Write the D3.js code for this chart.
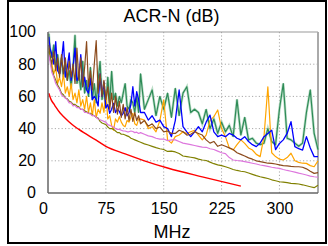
<!DOCTYPE html>
<html><head><meta charset="utf-8">
<script src="https://cdn.jsdelivr.net/npm/d3@7"></script>
<style>body{margin:0;background:#fff}svg{display:block;font-family:"Liberation Sans",Arial,sans-serif}</style>
</head><body><svg id="c" width="328" height="246"></svg>
<script>
const title = "ACR-N (dB)";
const xLabel = "MHz";
const xTicks = [0, 75, 150, 225, 300];
const yTicks = [0, 20, 40, 60, 80, 100];

const freqs = [1,2.5,5,7.5,10,12.5,15,17.5,20,22.5,25,27.5,30,32.5,35,37.5,40,42.5,45,47.5,50,52.5,55,57.5,60,62.5,65,67.5,70,72.5,75,77.5,80,82.5,85,87.5,90,92.5,95,97.5,100,102.5,105,107.5,110,112.5,115,117.5,120,
  125,130,135,140,145,150,155,160,165,170,175,180,185,190,195,200,205,210,215,220,225,230,235,240,245,250,255,260,265,270,275,280,285,290,295,300,305,310,315,320,325,330,335,340,345,350];

const olive = [88,84,77,73,70,67,65,62,61,59,58.5,57,56.5,55,55,54,53.5,52,52,51,50.5,49.5,49.5,48.5,48,47,46.5,44.5,43.5,43,42.5,41,40,40,39.5,38.5,37.5,37.5,36.5,36.5,36,35.5,35,34,33.5,33,32.5,32,31.5,
  30.5,29.8,29,28.2,27.5,27,25.8,26,25.5,24.5,23,22.6,22.2,21.8,21,20.5,20.2,19.2,18.2,17.5,17,16.3,15.5,14.6,14,13.5,13.2,12.4,11.6,10.8,10.1,9.6,9,8.2,7.6,7,6.8,6.4,6,5.8,5.6,5.1,4.5,3.9,3.3,4.8];
const violet = [86,82,75,72,68,66,64,61,60,59,58,56,56,54,54.5,53,53,52,52,50,50,49.5,49,48,48,47,46,45.5,45,44.5,44,42.5,42,41.5,41,40,39.5,39.5,39,38.5,38.5,38,38,38.5,38.2,37.5,37.8,37,37.5,
  36.5,35.5,35,34,33.5,33.5,32.5,33,33,32,31,30.5,30,29.5,29,28.5,28.4,27.5,27,26,25,24.5,22,20.5,20.2,20,19.5,19,18.5,18,17.4,17,16.5,16,15.6,15.3,14.6,14,13.5,13,12.3,11.8,11.2,10.5,10.1,9.8];
const brown = [92,86,80,88,76,84,72,86,74,84,70,82,72,80,68,90,70,84,66,78,94,66,76,64,80,94.6,62,74,60,70,58,66,52,62,50,60,49,57,47,55,46,53,45,52,44.5,50,45,48,43,
  45,41.5,43,40,41,38,38.5,37,37,39,38,36,36.5,38,37,36,33,31,32,29,30,29,28,27,25,24,23,21.8,21,20,19.5,19,18.5,18.4,18,17.5,17,16.8,16.5,16.3,16.3,16,15,13.5,12.2,12.6];
const orange = [90,84,80,74,78,68,72,66,74,62,66,60,68,58,62,56,64,54,58,52,60,50,56,48,58,47,52,49.5,56,50,63,46,48,42,39,46,44,47.4,44,42,41.2,45,44,47,49.5,43,42,46,46,
  45.3,40,41.2,38,45,57.8,33,31,35,36,38,37,38,39,36,33,36,45,47.4,51.6,40,35,28,26.7,30,33,30.8,28,26.7,24,22.6,35,66,25,22.6,21,20.5,22,24.7,20,19,18.5,18.4,17,16.3,20];
const blue = [97,90,86,80,94,76,74,82,94,72,78,87,70,78,90,70,72,86,66,72,64,62,71.4,58,60,58,54,74,60,69,52.8,55,49.5,52,55.7,50,52,50.7,48,49.5,53,48,50,55,66,54,63,57.8,50,
  50,45.3,48,44,45.3,41.2,40,35,45,64,41.2,38,35,38,41.2,38,44,48.4,38,35,36,35,37,36,34,33,35,32,30,28.8,31,35,37,39,27,30.8,33,37,44.3,28.8,27.5,26.7,35,28,22.6,22.6];
const green = [99,90,84,92,78,86,74,84,72,80,70,76,66,78,98,68,74,64,82,62,70,60,78,58,68,56,70,81.8,58,64,54,72,56,75.6,58,62,54,60,56,62,68,54,52,58,56,50,60,50,74,
  52,58,64,48,60,52,62,47,65,48,62,66,50,52,50,43,52,40,46,37,44,38,42,35,58,36,47,33,34,31,30,31,40,32,30,52,68,34,33,31,29,31,50,64,37,27];

const redFreqs = [1,4,8,10,16,20,31.25,40,62.5,75,100,125,155,200,250];
const red = [62,58,55,53.5,49.5,47.5,42.5,39.5,32.8,29,24.3,20,15.5,10,4.3];

const svg = d3.select("#c");
svg.append("rect").attr("x",8).attr("y",1).attr("width",318).attr("height",242)
  .attr("fill","#fff").attr("stroke","#000").attr("stroke-width",2);

const x = d3.scaleLinear().domain([0,350]).range([48,318]);
const y = d3.scaleLinear().domain([0,100]).range([193,32]);

const grid = svg.append("g").attr("stroke","#aaa").attr("stroke-dasharray","1.2,2.2").attr("stroke-width",1);
xTicks.filter(t=>t>0).forEach(t=>grid.append("line").attr("x1",x(t)).attr("x2",x(t)).attr("y1",y(100)).attr("y2",y(0)));
yTicks.filter(t=>t>0&&t<100).forEach(t=>grid.append("line").attr("x1",x(0)).attr("x2",x(350)).attr("y1",y(t)).attr("y2",y(t)));

svg.append("line").attr("x1",x(0)).attr("x2",x(350)).attr("y1",y(100)).attr("y2",y(100)).attr("stroke","#999").attr("stroke-width",1);
svg.append("line").attr("x1",x(350)).attr("x2",x(350)).attr("y1",y(100)).attr("y2",y(0)).attr("stroke","#aaa").attr("stroke-width",2);

const line = (xs) => d3.line().x((d,i)=>x(xs[i])).y(d=>y(d));
const series = [
  {v: green, c: "#2e8b57", w: 1.2, halo: "#9fd0b0"},
  {v: orange, c: "#ffa500", w: 1.2},
  {v: blue, c: "#0000ff", w: 1.3},
  {v: brown, c: "#8b4a1c", w: 1.2},
  {v: olive, c: "#808000", w: 1.2},
  {v: violet, c: "#dd77dd", w: 1.2}
];
const gl = svg.append("g").attr("fill","none");
series.forEach(s=>{
  if (s.halo) gl.append("path").attr("d", line(freqs)(s.v)).attr("stroke", s.halo).attr("stroke-width", 2.6).attr("stroke-opacity",0.7);
  gl.append("path").attr("d", line(freqs)(s.v)).attr("stroke", s.c).attr("stroke-width", s.w).attr("stroke-linejoin","round");
});
gl.append("path").attr("d", d3.line().x((d,i)=>x(redFreqs[i])).y(d=>y(d)).curve(d3.curveMonotoneX)(red))
  .attr("stroke","#ff0000").attr("stroke-width",1.4);

svg.append("line").attr("x1",x(0)).attr("x2",x(0)).attr("y1",y(100)).attr("y2",y(0)).attr("stroke","#666").attr("stroke-width",1.5);
svg.append("line").attr("x1",x(0)).attr("x2",x(350)).attr("y1",y(0)).attr("y2",y(0)).attr("stroke","#666").attr("stroke-width",1.5);

const xa = svg.append("g").attr("transform",`translate(0,${y(0)})`)
  .call(d3.axisBottom(x).tickValues(xTicks).tickSize(0).tickPadding(10));
xa.select(".domain").remove();
xa.selectAll("text").attr("font-size",16).attr("fill","#000").attr("font-family","Liberation Sans, Arial, sans-serif")
  .attr("dx", d => d===0 ? -5 : 0);

const ya = svg.append("g").attr("transform",`translate(${x(0)},0)`)
  .call(d3.axisLeft(y).tickValues(yTicks).tickSize(0).tickPadding(12));
ya.select(".domain").remove();
ya.selectAll("text").attr("font-size",16).attr("fill","#000").attr("font-family","Liberation Sans, Arial, sans-serif").attr("dy","0.3em");

svg.append("text").attr("x",171.5).attr("y",22).attr("text-anchor","middle").attr("font-size",18).text(title);
svg.append("text").attr("x",172).attr("y",238).attr("text-anchor","middle").attr("font-size",18).text(xLabel);
</script></body></html>
